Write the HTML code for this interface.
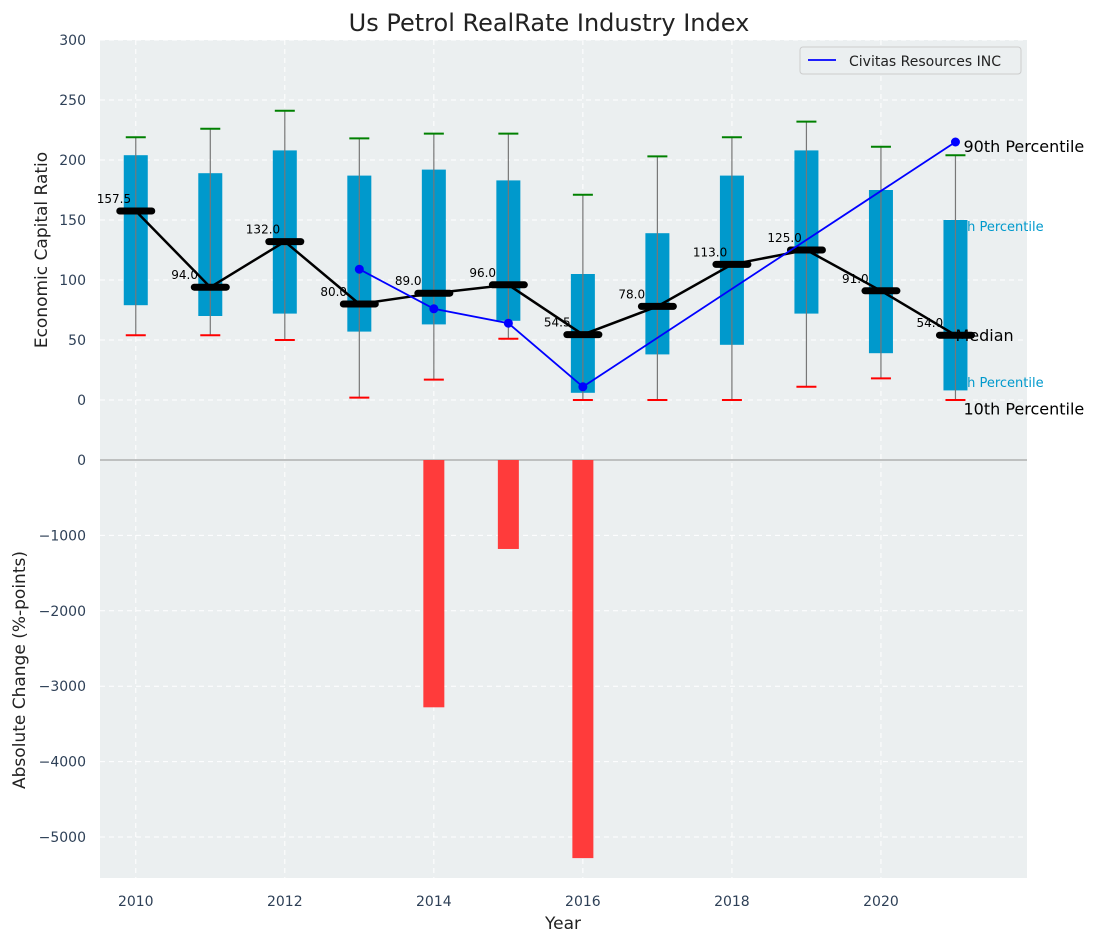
<!DOCTYPE html>
<html><head><meta charset="utf-8"><style>
html,body{margin:0;padding:0;background:#fff;}
svg text{font-family:"DejaVu Sans","Liberation Sans",sans-serif;}
</style></head><body>
<svg id="c" width="1098" height="942" xmlns="http://www.w3.org/2000/svg"></svg>
<script>
const years=[2010,2011,2012,2013,2014,2015,2016,2017,2018,2019,2020,2021];
const p10=[54,54,50,2,17,51,0,0,0,11,18,0];
const p25=[79,70,72,57,63,66,6,38,46,72,39,8];
const med=[157.5,94,132,80,89,96,54.5,78,113,125,91,54];
const p75=[204,189,208,187,192,183,105,139,187,208,175,150];
const p90=[219,226,241,218,222,222,171,203,219,232,211,204];
const civYears=[2013,2014,2015,2016,2021];
const civVals=[109,76,64,11,215];
const chgYears=[2014,2015,2016];
const chgVals=[-3280,-1180,-5280];
const topTicks=[0,50,100,150,200,250,300];
const botTicks=[0,-1000,-2000,-3000,-4000,-5000];
const xTicks=[2010,2012,2014,2016,2018,2020];

const NS="http://www.w3.org/2000/svg";
const svg=document.getElementById('c');
const L=100,R=1027,T1=40,B1=460,T2=460,B2=878;
const X=v=>L+(v-2009.52)/(21.96-9.52)*(R-L);
const Y1=v=>B1-(v+50)/350*(B1-T1);
const Y2=v=>460+(v/-5000)*(837-460);
function el(t,a,name,txt){const e=document.createElementNS(NS,t);for(const k in a)e.setAttribute(k,a[k]);


if(txt!==undefined)e.textContent=txt;svg.appendChild(e);return e;}

el('rect',{x:L,y:T1,width:R-L,height:B2-T1,fill:'#ebeff0'},'plot-background');
topTicks.forEach(t=>{el('line',{x1:L,x2:R,y1:Y1(t),y2:Y1(t),stroke:'#fff','stroke-dasharray':'5,4','stroke-width':1},'grid-line-top');
el('text',{x:86,y:Y1(t)+5,'text-anchor':'end','font-size':14,fill:'#2e4057'},'y-tick-top',String(t));});
botTicks.forEach(t=>{if(t<0)el('line',{x1:L,x2:R,y1:Y2(t),y2:Y2(t),stroke:'#fff','stroke-dasharray':'5,4','stroke-width':1},'grid-line-bottom');
el('text',{x:86,y:Y2(t)+5,'text-anchor':'end','font-size':14,fill:'#2e4057'},'y-tick-bottom',t<0?'\u2212'+(-t):String(t));});
xTicks.forEach(t=>{el('line',{x1:X(t),x2:X(t),y1:T1,y2:B2,stroke:'#fff','stroke-dasharray':'5,4','stroke-width':1},'grid-line-x');
el('text',{x:X(t),y:906,'text-anchor':'middle','font-size':14,fill:'#2e4057'},'x-tick',String(t));});
el('line',{x1:L,x2:R,y1:460,y2:460,stroke:'#b0b0b0','stroke-width':1.5},'zero-line');

const lx=X(2021);
el('text',{x:lx+8,y:Y1(p90[11]+2)-1,'font-size':16,fill:'#000'},'label-90th','90th Percentile');
el('text',{x:lx-10,y:Y1(p75[11]-6)+4,'font-size':13,fill:'#0099cc'},'label-75th','75th Percentile');
el('text',{x:lx-10,y:Y1(p25[11]+6)+4,'font-size':13,fill:'#0099cc'},'label-25th','25th Percentile');
el('text',{x:lx+8,y:Y1(p10[11]-7)+6,'font-size':16,fill:'#000'},'label-10th','10th Percentile');

years.forEach((y,i)=>{const x=X(y);
el('rect',{x:x-12,y:Y1(p75[i]),width:24,height:Y1(p25[i])-Y1(p75[i]),fill:'#0099cc'},'iqr-box');
el('line',{x1:x,x2:x,y1:Y1(p90[i]),y2:Y1(p10[i]),stroke:'#777','stroke-width':1.2},'whisker');
el('line',{x1:x-10,x2:x+10,y1:Y1(p90[i]),y2:Y1(p90[i]),stroke:'green','stroke-width':2},'cap-90');
el('line',{x1:x-10,x2:x+10,y1:Y1(p10[i]),y2:Y1(p10[i]),stroke:'red','stroke-width':2},'cap-10');
});
el('text',{x:lx,y:Y1(med[11])+6,'font-size':16,fill:'#000'},'label-median','Median');
el('polyline',{points:years.map((y,i)=>X(y)+','+Y1(med[i])).join(' '),fill:'none',stroke:'#000','stroke-width':2.5},'median-line');
years.forEach((y,i)=>{const x=X(y);
el('line',{x1:x-16,x2:x+16,y1:Y1(med[i]),y2:Y1(med[i]),stroke:'#000','stroke-width':7,'stroke-linecap':'round'},'median-marker');
el('text',{x:x-39,y:Y1(med[i])-8,'font-size':12,fill:'#000'},'median-value',med[i].toFixed(1));});
el('polyline',{points:civYears.map((y,i)=>X(y)+','+Y1(civVals[i])).join(' '),fill:'none',stroke:'blue','stroke-width':1.8},'civitas-line');
civYears.forEach((y,i)=>el('circle',{cx:X(y),cy:Y1(civVals[i]),r:4.5,fill:'blue'},'civitas-point'));
chgYears.forEach((y,i)=>el('rect',{x:X(y)-10.5,y:460,width:21,height:Y2(chgVals[i])-460,fill:'#ff3b3b'},'change-bar'));

el('rect',{x:800,y:47,width:221,height:27,fill:'#ebeff0',stroke:'#ccc',rx:3},'legend');
el('line',{x1:808,x2:836,y1:60,y2:60,stroke:'blue','stroke-width':1.8},'legend-line');
el('text',{x:849,y:66,'font-size':14,fill:'#222'},'legend-label','Civitas Resources INC');
el('text',{x:549,y:31,'text-anchor':'middle','font-size':24,fill:'#222'},'chart-title','Us Petrol RealRate Industry Index');
el('text',{x:563,y:929,'text-anchor':'middle','font-size':17,fill:'#222'},'x-axis-title','Year');
el('text',{x:0,y:0,transform:'translate(47,250) rotate(-90)','text-anchor':'middle','font-size':17,fill:'#222'},'y-axis-title-top','Economic Capital Ratio');
el('text',{x:0,y:0,transform:'translate(25,670) rotate(-90)','text-anchor':'middle','font-size':17,fill:'#222'},'y-axis-title-bottom','Absolute Change (%-points)');
</script>
</body></html>
